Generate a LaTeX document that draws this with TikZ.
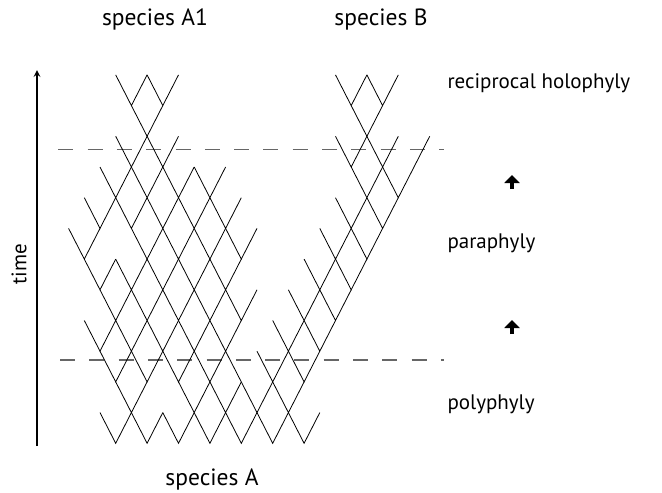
\documentclass[tikz,border=0pt]{standalone}
\usepackage{fontspec}
\setmainfont{PT Sans}
\usetikzlibrary{arrows.meta}
\tikzset{>=stealth}

\begin{document}
\begin{tikzpicture}[x=1pt,y=-1pt,font=\fontsize{21}{25}\selectfont,
  level/.style={dash pattern=on 15pt off 14.3pt,line width=1.3pt,black!60},
  species/.style={font=\fontsize{23.5}{28}\selectfont,anchor=base},
  step up/.style={line width=4.5pt,-{Triangle[length=8pt,width=15pt]}}]
\useasboundingbox (0,0) rectangle (662,493);
% time axis
\draw[line width=2pt,->] (37,446) -- (37,70);
\node[rotate=90] (time) at (19,264) {time};
% the two levels
\draw[level] (58.3,149.5) -- (443.5,149.5);
\draw[level] (60,360) -- (443.5,360);
% lineages: a V hangs from every listed point
\begin{scope}[shift={(115.7,443.3)},x=15.7pt,y=30.7pt,line width=.8pt]
\foreach \r/\ks in {11/{1,3,15,17},10/{2,16},9/{1,3,15,17},8/{0,2,4,6,16,18},
  7/{-1,1,3,5,7,15,17},6/{-2,2,4,6,8,14,16},5/{-1,1,3,5,7,13,15},
  4/{0,2,4,6,8,12,14},3/{-1,1,3,5,7,11,13},2/{0,2,4,6,10,12},
  1/{1,5,7,9,11},0/{0,2,4,6,8,10,12}}
  \foreach \k in \ks
    \draw (\k-1,\r+1) -- (\k,\r) -- (\k+1,\r+1);
\draw (7,3) -- (8,2);
\draw (19,9) -- (20,10);
\end{scope}
% labels
\node[species] (specA1) at (155,25) {species A1};
\node[species] (specB) at (381,25) {species B};
\node[species] (specA) at (212,485) {species A};
\node[anchor=west] (holo) at (444,83) {reciprocal holophyly};
\node[anchor=west] (para) at (444,243) {paraphyly};
\node[anchor=west] (poly) at (444,404) {polyphyly};
\draw[step up] (512,189) -- (512,175);
\draw[step up] (512,334) -- (512,320);
\end{tikzpicture}
\end{document}
